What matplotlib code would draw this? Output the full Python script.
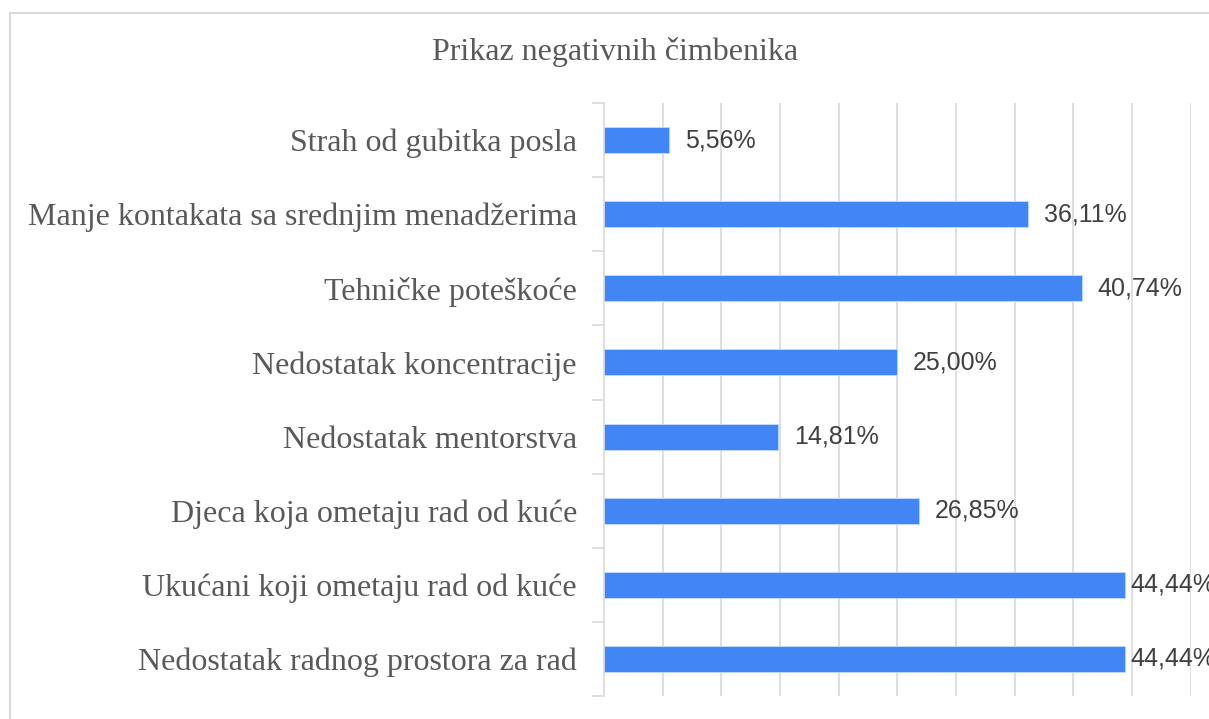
import matplotlib.pyplot as plt
from matplotlib.patches import Rectangle
import numpy as np

categories = ['Strah od gubitka posla',
              'Manje kontakata sa srednjim menadžerima',
              'Tehničke poteškoće',
              'Nedostatak koncentracije',
              'Nedostatak mentorstva',
              'Djeca koja ometaju rad od kuće',
              'Ukućani koji ometaju rad od kuće',
              'Nedostatak radnog prostora za rad']
values = [5.56, 36.11, 40.74, 25.00, 14.81, 26.85, 44.44, 44.44]
title = 'Prikaz negativnih čimbenika'

W, H = 1209, 719
fig = plt.figure(figsize=(W / 100, H / 100), dpi=100)
ax = fig.add_axes([604 / W, 1 - 696 / H, (1190.5 - 604) / W, (696 - 103) / H])

# outer chart border (cut at right and bottom like the screenshot)
fig.patches.append(Rectangle((10 / W, -0.05), 1.1, 1 - 13 / H + 0.05,
                             transform=fig.transFigure, fill=False,
                             edgecolor='#d9d9d9', linewidth=1.5))

y = np.arange(len(categories))
ax.barh(y, values, height=0.35, color='#4285F4', edgecolor='#c6dafc',
        linewidth=0.6, zorder=3)

ax.set_xlim(0, 50)
ax.set_ylim(len(categories) - 0.5, -0.5)
ax.set_xticks(np.arange(5, 51, 5))
ax.tick_params(axis='x', length=0, labelbottom=False)
ax.grid(axis='x', color='#d9d9d9', linewidth=1.2, zorder=0)

# category labels + boundary ticks
ax.set_yticks(y)
ax.set_yticklabels(categories, fontfamily='Liberation Serif', fontsize=23,
                   color='#595959')
ax.set_yticks(np.arange(-0.5, len(categories), 1), minor=True)
ax.tick_params(axis='y', which='major', length=0, pad=19.5)
ax.tick_params(axis='y', which='minor', length=9, width=1.2, color='#d9d9d9')

for s in ['top', 'right', 'bottom']:
    ax.spines[s].set_visible(False)
ax.spines['left'].set_color('#d9d9d9')
ax.spines['left'].set_linewidth(1.2)

for yi, v in zip(y, values):
    lab = f'{v:.2f}'.replace('.', ',') + '%'
    ax.text(min(v + 1.36, 44.85), yi, lab, va='center', ha='left',
            fontfamily='Liberation Sans', fontsize=18, color='#404040',
            clip_on=False)

fig.text(615 / W, 1 - 52 / H, title, ha='center', va='center',
         fontfamily='Liberation Serif', fontsize=23, color='#595959')

fig.savefig('out.png', dpi=100, facecolor='white')
